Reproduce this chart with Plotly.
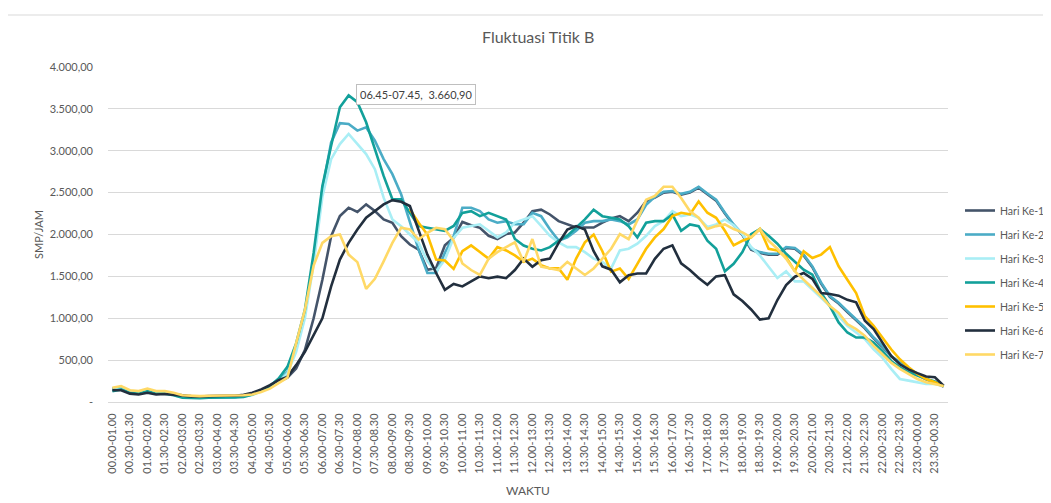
import plotly.graph_objects as go

# ---- categories (15-minute moving hourly windows) ----
def _lab(h, m):
    h2 = (h + 1) % 24
    return f"{h:02d}.{m:02d}-{h2:02d}.{m:02d}"

categories = [_lab(h, m) for h in range(24) for m in (0, 15, 30, 45)]
tick_labels = categories[::2]

y_tick_vals = [0, 500, 1000, 1500, 2000, 2500, 3000, 3500, 4000]
y_tick_text = ["-", "500,00", "1.000,00", "1.500,00", "2.000,00", "2.500,00",
               "3.000,00", "3.500,00", "4.000,00"]

series_names = ["Hari Ke-1", "Hari Ke-2", "Hari Ke-3", "Hari Ke-4",
                "Hari Ke-5", "Hari Ke-6", "Hari Ke-7"]

hari1 = [150, 165, 110, 105, 140, 110, 115, 95, 80, 70, 65, 70, 70, 75, 70, 75, 100, 140, 190, 240,
         290, 400, 620, 1000, 1460, 1980, 2220, 2320, 2270, 2360, 2280, 2180, 2140, 1980, 1880, 1820,
         1580, 1600, 1870, 1960, 2150, 2110, 2080, 1985, 1946, 2005, 2024, 2141, 2278, 2297, 2239, 2160,
         2122, 2083, 2083, 2083, 2141, 2190, 2220, 2160, 2260, 2400, 2440, 2500, 2510, 2475, 2500, 2560,
         2480, 2405, 2250, 2110, 1995, 1820, 1780, 1760, 1760, 1840, 1830, 1750, 1610, 1415, 1255, 1175,
         1075, 980, 880, 760, 660, 545, 465, 390, 330, 270, 230, 185]
hari2 = [160, 180, 130, 120, 150, 120, 120, 100, 70, 60, 55, 60, 60, 65, 60, 70, 90, 130, 180, 250,
         360, 640, 1060, 1700, 2540, 3100, 3330, 3320, 3240, 3280, 3120, 2900, 2720, 2480, 2140, 1820,
         1540, 1540, 1780, 1980, 2320, 2320, 2280, 2180, 2141, 2160, 2122, 2122, 2258, 2219, 2063, 1927,
         1966, 2044, 2141, 2160, 2160, 2180, 2160, 2120, 2180, 2355, 2450, 2510, 2520, 2485, 2510, 2570,
         2490, 2415, 2260, 2120, 2005, 1830, 1790, 1770, 1770, 1850, 1840, 1760, 1620, 1425, 1265, 1185,
         1085, 990, 890, 770, 670, 550, 470, 395, 335, 275, 235, 190]
hari3 = [140, 160, 120, 110, 140, 110, 110, 90, 60, 55, 50, 55, 55, 60, 60, 65, 85, 125, 175, 240,
         340, 600, 1000, 1650, 2450, 2900, 3080, 3200, 3080, 2960, 2780, 2440, 2180, 2100, 2000, 1900,
         1680, 1560, 1700, 1960, 2080, 2102, 2122, 2044, 1966, 2024, 2141, 2180, 2219, 2102, 1985, 1907,
         1849, 1849, 1790, 1712, 1673, 1595, 1810, 1830, 1890, 1985, 2100, 2160, 2280, 2220, 2240, 2200,
         2090, 2120, 2180, 2110, 2005, 1850, 1750, 1615, 1480, 1560, 1440, 1440, 1345, 1245, 1145, 1025,
         910, 830, 750, 630, 530, 395, 275, 255, 235, 215, 215, 190]
hari4 = [130, 150, 110, 100, 130, 100, 100, 80, 50, 45, 45, 50, 50, 55, 55, 60, 90, 135, 190, 280,
         420, 700, 1100, 1780, 2580, 3060, 3520, 3660.9, 3580, 3340, 3020, 2700, 2420, 2420, 2260, 2100,
         2080, 2063, 2044, 2102, 2258, 2278, 2219, 2258, 2219, 2180, 1946, 1868, 1829, 1810, 1849, 1927,
         1985, 2083, 2180, 2297, 2219, 2200, 2180, 2100, 1965, 2140, 2160, 2160, 2240, 2045, 2120, 2100,
         1925, 1830, 1560, 1650, 1790, 2005, 2065, 1985, 1890, 1770, 1680, 1580, 1520, 1305, 1145, 950,
         830, 770, 770, 710, 610, 490, 415, 355, 315, 275, 245, 190]
hari5 = [None] * 34 + [
         2300, 2140, 2000, 1700, 1690, 1590, 1800, 1870, 1790, 1712, 1849, 1810, 1751, 1673, 1712, 1634,
         1595, 1595, 1459, 1712, 1907, 2000, 1800, 1556, 1595, 1470, 1650, 1830, 1965, 2065, 2220, 2260,
         2240, 2395, 2260, 2200, 2045, 1870, 1925, 1965, 2065, 1830, 1810, 1730, 1560, 1800, 1720, 1760,
         1850, 1620, 1460, 1300, 1025, 910, 770, 630, 510, 415, 335, 275, 235, 190]
hari6 = [140, 140, 100, 90, 110, 90, 95, 85, 70, 65, 65, 70, 70, 75, 75, 85, 110, 150, 200, 260,
         300, 440, 600, 800, 1000, 1380, 1700, 1900, 2060, 2200, 2280, 2360, 2410, 2390, 2340, 2060,
         1760, 1540, 1340, 1410, 1380, 1440, 1500, 1478, 1497, 1478, 1576, 1712, 1615, 1693, 1712, 1900,
         2060, 2100, 2060, 1800, 1620, 1580, 1430, 1515, 1535, 1535, 1710, 1830, 1870, 1655, 1575, 1480,
         1400, 1500, 1515, 1285, 1205, 1105, 985, 1000, 1218, 1397, 1496, 1540, 1470, 1300, 1290, 1270,
         1220, 1190, 970, 870, 710, 550, 450, 390, 345, 305, 295, 195]
hari7 = [170, 190, 140, 130, 160, 130, 130, 110, 80, 75, 70, 75, 75, 80, 75, 80, 90, 120, 160, 220,
         290, 700, 1100, 1630, 1900, 1980, 2000, 1760, 1670, 1350, 1470, 1680, 1900, 2080, 2060, 1940,
         2020, 2080, 2063, 1927, 1654, 1576, 1517, 1712, 1790, 1849, 1907, 1673, 1946, 1615, 1595, 1576,
         1673, 1595, 1517, 1595, 1712, 1830, 2005, 1945, 2170, 2415, 2460, 2570, 2570, 2435, 2280, 2200,
         2065, 2100, 2120, 2065, 2025, 1965, 2065, 1925, 1830, 1710, 1560, 1460, 1365, 1265, 1145, 1065,
         930, 870, 790, 670, 570, 470, 395, 335, 275, 235, 215, 190]

series_values = [hari1, hari2, hari3, hari4, hari5, hari6, hari7]
series_colors = ["#44546A", "#4BACC6", "#A9EEF5", "#12A09A", "#FFC000", "#222F3E", "#FFD966"]

peak_label = "06.45-07.45"
peak_value = 3660.9
peak_text = "06.45-07.45,  3.660,90"

# ---- geometry (figure pixels; page body adds an 8px offset) ----
W, H = 1043, 495
L, R, T, B = 100, 940, 59, 394


def px(x):
    return (x - L) / (R - L)


def py(y):
    return (B - y) / (B - T)


fig = go.Figure()
for name, vals, col in zip(series_names, series_values, series_colors):
    fig.add_trace(go.Scatter(
        x=categories, y=vals, mode="lines", name=name,
        line=dict(color=col, width=2.6), legendgroup=name,
        connectgaps=False,
    ))

fig.add_annotation(
    x=peak_label, y=peak_value, xref="x", yref="y",
    text=peak_text, showarrow=False, xanchor="left", yanchor="middle",
    xshift=7, yshift=1,
    font=dict(family="Lato, Open Sans, sans-serif", size=11, color="#404040"),
    bgcolor="white", bordercolor="#BFBFBF", borderwidth=1, borderpad=3,
)

# chart frame
fig.add_shape(type="rect", xref="paper", yref="paper",
              x0=px(-5), x1=px(1060), y0=py(520), y1=py(7),
              line=dict(color="#D9D9D9", width=1), fillcolor="rgba(0,0,0,0)", layer="below")

fig.update_layout(
    width=W, height=H,
    margin=dict(l=L, r=W - R, t=T, b=H - B, autoexpand=False),
    paper_bgcolor="white", plot_bgcolor="white",
    font=dict(family="Lato, Open Sans, sans-serif", size=11, color="#595959"),
    title=dict(text="Fluktuasi Titik B", x=px(527), xanchor="center",
               y=1 - 29 / H, yanchor="middle",
               font=dict(size=16, color="#595959")),
    showlegend=True,
    legend=dict(x=px(952), xanchor="left", y=py(188), yanchor="top",
                font=dict(size=10.5, color="#595959"), tracegroupgap=5,
                bgcolor="rgba(0,0,0,0)"),
    xaxis=dict(
        type="category", categoryorder="array", categoryarray=categories,
        range=[-0.5, len(categories) - 0.5], automargin=False,
        tickmode="array", tickvals=tick_labels, ticktext=tick_labels,
        tickangle=-90, tickfont=dict(size=11, color="#595959"),
        showgrid=False, showline=True, linecolor="#D9D9D9", linewidth=1,
        ticks="", ticklabelstandoff=6,
        title=dict(text="WAKTU", standoff=13, font=dict(size=12, color="#595959")),
        zeroline=False,
    ),
    yaxis=dict(
        range=[0, 4000], tickmode="array", tickvals=y_tick_vals, ticktext=y_tick_text,
        showgrid=True, gridcolor="#D9D9D9", gridwidth=1, zeroline=False, automargin=False,
        showline=False, ticks="", ticklabelstandoff=14,
        tickfont=dict(size=11, color="#595959"),
        title=dict(text="SMP/JAM", standoff=3, font=dict(size=11, color="#595959")),
    ),
)

fig.write_html("out.html")
